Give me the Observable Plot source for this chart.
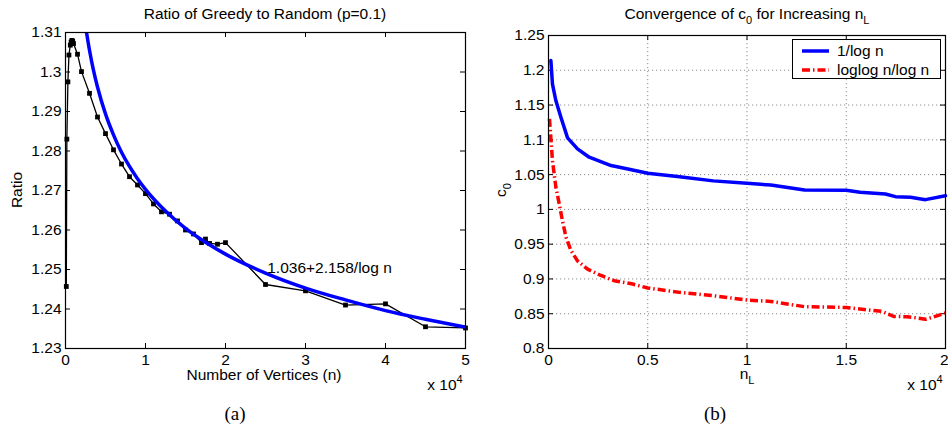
<!DOCTYPE html>
<html>
<head>
<meta charset="utf-8">
<script src="https://cdn.jsdelivr.net/npm/d3@7"></script>
<script src="https://cdn.jsdelivr.net/npm/@observablehq/plot@0.6"></script>
<style>
  body { margin: 0; background: #fff; }
  #wrap { position: relative; width: 948px; height: 430px; overflow: hidden; background: #fff;
          font-family: "Liberation Sans", Arial, sans-serif; color: #000; }
  .panel { position: absolute; top: 0; }
  .lbl { position: absolute; transform: translate(-50%, -50%); white-space: nowrap; line-height: 1; font-size: 15.5px; }
  .rot { transform: translate(-50%, -50%) rotate(-90deg); }
  .sub { font-size: 11px; position: relative; top: 5px; }
  .sup { font-size: 11px; position: relative; top: -7px; }
  .cap { font-family: "Liberation Serif", "DejaVu Serif", serif; font-size: 19px; }
  #legend { position: absolute; left: 792px; top: 39px; width: 149px; height: 40px; border: 1px solid #000;
            background: #fff; box-sizing: border-box; }
  #legend svg { position: absolute; left: 0; top: 0; }
  #legend .t { position: absolute; left: 44px; transform: translateY(-50%); font-size: 15.5px; line-height: 1; white-space: nowrap; }
</style>
</head>
<body>
<div id="wrap">
  <div class="panel" id="pa" style="left:0px"></div>
  <div class="panel" id="pb" style="left:474px"></div>

  <div class="lbl" style="left:265px; top:14px;">Ratio of Greedy to Random (p=0.1)</div>
  <div class="lbl rot" style="left:17px; top:190px;">Ratio</div>
  <div class="lbl" style="left:264px; top:375px;">Number of Vertices (n)</div>
  <div class="lbl" style="left:445px; top:385px;">x 10<span class="sup">4</span></div>
  <div class="lbl cap" style="left:235px; top:413px;">(a)</div>

  <div class="lbl" style="left:747px; top:14px;">Convergence of c<span class="sub">0</span> for Increasing n<span class="sub">L</span></div>
  <div class="lbl rot" style="left:501px; top:190px;">c<span class="sub">0</span></div>
  <div class="lbl" style="left:747px; top:374px;">n<span class="sub">L</span></div>
  <div class="lbl" style="left:925px; top:385px;">x 10<span class="sup">4</span></div>
  <div class="lbl cap" style="left:715px; top:413px;">(b)</div>

  <div id="legend">
    <svg width="149" height="40">
      <line x1="9" x2="36" y1="11" y2="11" stroke="#0000ff" stroke-width="3.5"/>
      <line x1="9" x2="36" y1="30" y2="30" stroke="#ff0000" stroke-width="3.5" stroke-dasharray="8,3,1.5,3"/>
    </svg>
    <div class="t" style="top:11px;">1/log n</div>
    <div class="t" style="top:30px;">loglog n/log n</div>
  </div>
</div>
<script>
// ---------- Panel (a): Ratio of Greedy to Random ----------
const greedyN = [100, 170, 300, 430, 600, 700, 800, 900, 1000, 1500, 2000, 3000, 4000, 5000, 6000, 7000, 8000, 9000,
  10000, 11000, 12000, 13000, 14000, 15000, 16000, 17000, 17500, 18000, 19000, 20000, 25000, 30000, 35000, 40000, 45000, 50000];
const greedyRatio = [1.2457, 1.2830, 1.2975, 1.3043, 1.3068, 1.3076, 1.3080, 1.3078, 1.3072, 1.3045, 1.3001, 1.2946, 1.2886,
  1.2844, 1.2803, 1.2767, 1.2735, 1.2714, 1.2692, 1.2666, 1.2646, 1.2640, 1.2623, 1.2600, 1.2590, 1.2568, 1.2577, 1.2566,
  1.2564, 1.2568, 1.2462, 1.2446, 1.2410, 1.2413, 1.2355, 1.2352];

const fitN = [2630, 3000, 3500, 4000, 5000, 6000, 7000, 8000, 9000, 10000, 12500, 15000, 17500, 20000, 25000, 30000, 35000, 40000, 45000, 50000];
const fitRatio = [1.3100, 1.3055, 1.3004, 1.2962, 1.2894, 1.2841, 1.2797, 1.2761, 1.2730, 1.2703, 1.2648, 1.2604, 1.2569,
  1.2539, 1.2491, 1.2453, 1.2423, 1.2396, 1.2374, 1.2354];
const fitLabel = ["1.036+2.158/log n"];

const aXTicks = [0, 10000, 20000, 30000, 40000, 50000];
const aYTicks = [1.23, 1.24, 1.25, 1.26, 1.27, 1.28, 1.29, 1.30, 1.31];

// ---------- Panel (b): Convergence of c0 ----------
const invLogN = [120, 200, 370, 625, 960, 1460, 2050, 3150, 4000, 5000, 6600, 8300, 10000, 11200, 12900, 15000, 15700,
  16970, 17480, 18240, 18990, 20000];
const invLogC0 = [1.214, 1.180, 1.1565, 1.1325, 1.1028, 1.087, 1.075, 1.063, 1.058, 1.052, 1.047, 1.041, 1.0375, 1.035,
  1.028, 1.0275, 1.0245, 1.0222, 1.0183, 1.0174, 1.014, 1.0195];

const loglogN = [50, 200, 370, 540, 700, 880, 1130, 1460, 1970, 2640, 3310, 4240, 5000, 6600, 8300, 10000, 11200, 12900,
  15000, 16800, 17400, 18070, 18740, 18990, 19330, 20000];
const loglogC0 = [1.130, 1.070, 1.032, 1.008, 0.984, 0.960, 0.941, 0.926, 0.914, 0.905, 0.8975, 0.8927, 0.887, 0.8807,
  0.8759, 0.8697, 0.8677, 0.8601, 0.859, 0.8533, 0.846, 0.8457, 0.8432, 0.842, 0.8447, 0.851];

const bXTicks = [0, 5000, 10000, 15000, 20000];
const bYTicks = [0.8, 0.85, 0.9, 0.95, 1.0, 1.05, 1.1, 1.15, 1.2, 1.25];

// ---------- build ----------
const greedy = greedyN.map((n, i) => ({n, r: greedyRatio[i]}));
const fit = fitN.map((n, i) => ({n, r: fitRatio[i]}));
const seriesB1 = invLogN.map((n, i) => ({n, c: invLogC0[i]}));
const seriesB2 = loglogN.map((n, i) => ({n, c: loglogC0[i]}));

const baseStyle = {fontFamily: "'Liberation Sans', Arial, sans-serif", fontSize: "15.5px", color: "#000", background: "transparent", overflow: "visible"};

function boxTicks(xt, yt, iw, ih, len) {
  return [
    Plot.tickX(xt, {x: d => d, insetTop: ih - len, stroke: "#000", strokeWidth: 1}),
    Plot.tickX(xt, {x: d => d, insetBottom: ih - len, stroke: "#000", strokeWidth: 1}),
    Plot.tickY(yt, {y: d => d, insetRight: iw - len, stroke: "#000", strokeWidth: 1}),
    Plot.tickY(yt, {y: d => d, insetLeft: iw - len, stroke: "#000", strokeWidth: 1})
  ];
}

const aW = 474, aH = 430, aML = 65, aMR = 9, aMT = 32, aMB = 82;
const plotA = Plot.plot({
  width: aW, height: aH, marginLeft: aML, marginRight: aMR, marginTop: aMT, marginBottom: aMB,
  style: baseStyle,
  x: {domain: [0, 50000]},
  y: {domain: [1.23, 1.31]},
  marks: [
    Plot.axisX(aXTicks, {tickSize: 0, tickPadding: 5, tickFormat: d => String(d / 1e4), label: null}),
    Plot.axisY(aYTicks, {tickSize: 0, tickPadding: 4, tickFormat: d => String(+d.toFixed(2)), label: null}),
    ...boxTicks(aXTicks, aYTicks, aW - aML - aMR, aH - aMT - aMB, 5),
    Plot.line(greedy, {x: "n", y: "r", stroke: "#000", strokeWidth: 1.3}),
    Plot.dot(greedy, {x: "n", y: "r", symbol: "square", r: 2.7, fill: "#000", stroke: "none"}),
    Plot.line(fit, {x: "n", y: "r", stroke: "#0000ff", strokeWidth: 3.5, curve: "monotone-x", clip: true}),
    Plot.text(fitLabel, {text: d => d, frameAnchor: "top-left", dx: 264, dy: 229, textAnchor: "middle", fill: "#000"}),
    Plot.frame({stroke: "#000", strokeWidth: 1.2})
  ]
});
document.getElementById("pa").appendChild(plotA);

const bW = 474, bH = 430, bML = 74, bMR = 3, bMT = 35, bMB = 82;
const bXMain = bXTicks.slice(0, -1);
const bXLast = bXTicks.slice(-1);
const plotB = Plot.plot({
  width: bW, height: bH, marginLeft: bML, marginRight: bMR, marginTop: bMT, marginBottom: bMB,
  style: baseStyle,
  x: {domain: [0, 20000]},
  y: {domain: [0.8, 1.25]},
  marks: [
    Plot.gridX(bXTicks, {stroke: "#8a8a8a", strokeOpacity: 1, strokeDasharray: "1.2,2.8"}),
    Plot.gridY(bYTicks, {stroke: "#8a8a8a", strokeOpacity: 1, strokeDasharray: "1.2,2.8"}),
    Plot.axisX(bXMain, {tickSize: 0, tickPadding: 5, tickFormat: d => String(d / 1e4), label: null}),
    Plot.axisX(bXLast, {tickSize: 0, tickPadding: 5, tickFormat: d => String(d / 1e4), textAnchor: "end", dx: 3, label: null}),
    Plot.axisY(bYTicks, {tickSize: 0, tickPadding: 4, tickFormat: d => String(+d.toFixed(2)), label: null}),
    ...boxTicks(bXTicks, bYTicks, bW - bML - bMR, bH - bMT - bMB, 5),
    Plot.line(seriesB1, {x: "n", y: "c", stroke: "#0000ff", strokeWidth: 3.5}),
    Plot.line(seriesB2, {x: "n", y: "c", stroke: "#ff0000", strokeWidth: 3.5, strokeLinecap: "butt", strokeLinejoin: "miter",
      strokeDasharray: "8,3,1.5,3"}),
    Plot.frame({stroke: "#000", strokeWidth: 1.2})
  ]
});
document.getElementById("pb").appendChild(plotB);
</script>
</body>
</html>
